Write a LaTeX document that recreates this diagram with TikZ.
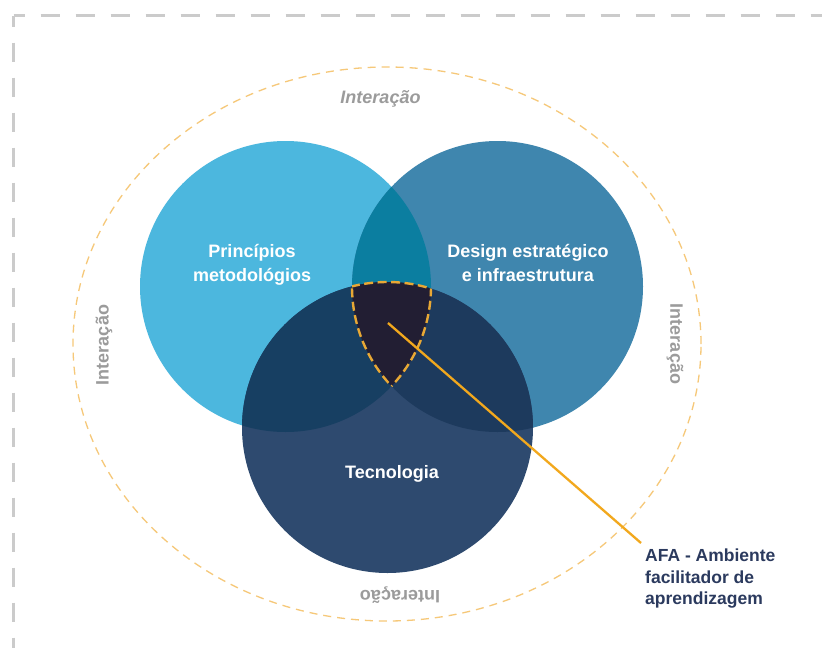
\documentclass[tikz,border=0pt]{standalone}
\usepackage{fontspec}
\setmainfont{Liberation Sans}
\definecolor{cA}{HTML}{4CB7DE}
\definecolor{cB}{HTML}{3F86AE}
\definecolor{cC}{HTML}{2E4A6F}
\definecolor{cAB}{HTML}{0B7EA0}
\definecolor{cAC}{HTML}{173F62}
\definecolor{cBC}{HTML}{1D3A5D}
\definecolor{cABC}{HTML}{221E33}
\definecolor{orangeL}{HTML}{F2A81D}
\definecolor{shieldO}{HTML}{E8A835}
\definecolor{ellO}{HTML}{F6C879}
\definecolor{grayT}{HTML}{9B9B9B}
\definecolor{borderG}{HTML}{CBCBCB}
\definecolor{navy}{HTML}{2B3A5E}
\begin{document}
\begin{tikzpicture}[x=1pt,y=-1pt,
  borderline/.style={draw=borderG,line width=2.5pt,dash pattern=on 19pt off 16pt,dash phase=8pt},
  ellline/.style={draw=ellO,line width=1.3pt,dash pattern=on 8pt off 6pt},
  shieldline/.style={draw=shieldO,line width=2.4pt,dash pattern=on 9pt off 4.5pt},
  circlabel/.style={text=white,align=center,font=\fontsize{18}{24.5}\selectfont\bfseries,inner sep=0pt},
  interlabel/.style={text=grayT,font=\fontsize{18}{20}\selectfont\bfseries,inner sep=0pt},
  afalabel/.style={text=navy,align=left,font=\fontsize{17.5}{21.5}\selectfont\bfseries,inner sep=0pt},
  connector/.style={draw=orangeL,line width=2.3pt}]
\useasboundingbox (0,0) rectangle (822,648);
\fill[white] (0,0) rectangle (822,648);
% outer dashed frame
\coordinate (fc) at (13.5,15.5);
\coordinate (fr) at (822,15.5);
\coordinate (fb) at (13.5,648);
\draw[borderline] (fc) -- (fr);
\draw[borderline] (fc) -- (fb);
% interaction ellipse
\coordinate (E) at (387,344);
\draw[ellline] (E) ellipse[x radius=314pt,y radius=277pt];
% circles
\def\R{145.5pt}
\coordinate (A) at (285.5,286.5);
\coordinate (B) at (497.5,286.5);
\coordinate (C) at (387.5,427.5);
\fill[cA] (A) circle[radius=\R];
\fill[cB] (B) circle[radius=\R];
\fill[cC] (C) circle[radius=\R];
\begin{scope}
  \clip (A) circle[radius=\R];
  \fill[cAB] (B) circle[radius=\R];
\end{scope}
\begin{scope}
  \clip (A) circle[radius=\R];
  \fill[cAC] (C) circle[radius=\R];
\end{scope}
\begin{scope}
  \clip (B) circle[radius=\R];
  \fill[cBC] (C) circle[radius=\R];
\end{scope}
\begin{scope}
  \clip (A) circle[radius=\R];
  \clip (B) circle[radius=\R];
  \fill[cABC] (C) circle[radius=\R];
\end{scope}
% dashed border of the triple intersection
\begin{scope}
  \clip (A) circle[radius=\R];
  \clip (B) circle[radius=\R];
  \draw[shieldline] (C) circle[radius=\R];
\end{scope}
\begin{scope}
  \clip (A) circle[radius=\R];
  \clip (C) circle[radius=\R];
  \draw[shieldline] (B) circle[radius=\R];
\end{scope}
\begin{scope}
  \clip (B) circle[radius=\R];
  \clip (C) circle[radius=\R];
  \draw[shieldline] (A) circle[radius=\R];
\end{scope}
% labels
\node[circlabel] (princ) at (252,265) {Princípios\\metodológios};
\node[circlabel] (design) at (528,263) {Design estratégico\\e infraestrutura};
\node[circlabel] (tec) at (392,473.5) {Tecnologia};
\node[interlabel,font=\fontsize{18}{20}\selectfont\bfseries\itshape] (itop) at (380.5,99) {Interação};
\node[interlabel,rotate=90] (ileft) at (104,345) {Interação};
\node[interlabel,rotate=-90] (iright) at (675,344) {Interação};
\node[interlabel,rotate=180] (ibot) at (400,595) {Interação};
\node[afalabel,anchor=north west] (afa) at (645,549) {AFA - Ambiente\\facilitador de\\aprendizagem};
% connector
\coordinate (afaPt) at (388,323);
\coordinate (afaEnd) at (641,543);
\draw[connector] (afaPt) -- (afaEnd);
\end{tikzpicture}
\end{document}
